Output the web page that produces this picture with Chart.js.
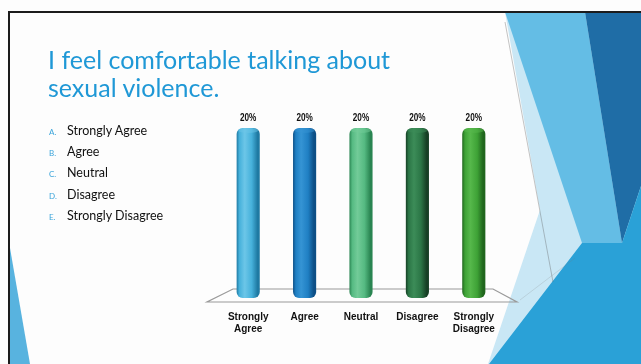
<!DOCTYPE html>
<html><head><meta charset="utf-8">
<script src="https://cdn.jsdelivr.net/npm/chart.js@4.4.1/dist/chart.umd.min.js"></script>
<style>
html,body{margin:0;padding:0;background:#fff;overflow:hidden}
#wrap{position:relative;width:641px;height:364px}
#c{position:absolute;left:0;top:0}
#title{position:absolute;left:48px;top:45px;font-family:Lato,"Open Sans",sans-serif;font-size:25px;line-height:28px;color:#1f98d6;white-space:nowrap}
#list{position:absolute;left:49px;top:120px;font-family:Lato,"Open Sans",sans-serif;color:#111}
.item{height:21.2px;line-height:21.2px;font-size:12.5px;white-space:nowrap}
.item .l{display:inline-block;width:18px;font-size:8px;color:#3aa4da}
</style>
</head><body>
<div id="wrap">
<canvas id="c" width="641" height="364"></canvas>
<div id="title">I feel comfortable talking about<br>sexual violence.</div>
<div id="list"></div>
</div>
<script>
// ---- data ----
const categories = [["Strongly","Agree"],"Agree","Neutral","Disagree",["Strongly","Disagree"]];
const values = [20,20,20,20,20];
const valueSuffix = "%";
const listLetters = ["A.","B.","C.","D.","E."];
const listItems = ["Strongly Agree","Agree","Neutral","Disagree","Strongly Disagree"];
const yMax = 20;

// ---- styles ----
const barStyles = [
  {edge:"#1f7aa3", base:"#46b1db", hi:"#6cc6e8"},
  {edge:"#0d4f86", base:"#1f7fc3", hi:"#3594d4"},
  {edge:"#2a8552", base:"#55ba82", hi:"#72cb98"},
  {edge:"#163f25", base:"#2b7646", hi:"#3c8c58"},
  {edge:"#20661d", base:"#3ea236", hi:"#56b84b"}
];

// build the list text
const listEl = document.getElementById('list');
listItems.forEach((t,i)=>{
  const d = document.createElement('div'); d.className='item';
  const l = document.createElement('span'); l.className='l'; l.textContent = listLetters[i];
  d.appendChild(l); d.appendChild(document.createTextNode(t));
  listEl.appendChild(d);
});

const BAR_FRAC = 0.41;
function cylFill(ctx){
  const chart = ctx.chart, area = chart.chartArea, st = barStyles[ctx.dataIndex];
  if(!area || !chart.scales.x) return st.base;
  const cx = chart.scales.x.getPixelForValue(ctx.dataIndex);
  const w = (area.right-area.left)/categories.length*BAR_FRAC;
  const g = chart.ctx.createLinearGradient(cx-w/2,0,cx+w/2,0);
  g.addColorStop(0, st.edge);
  g.addColorStop(0.12, st.base);
  g.addColorStop(0.35, st.hi);
  g.addColorStop(0.65, st.base);
  g.addColorStop(0.9, st.edge);
  g.addColorStop(1, st.edge);
  return g;
}

const bgPlugin = {
  id:'bg',
  beforeDraw(chart){
    const c = chart.ctx;
    c.save();
    c.fillStyle='#fdfdfd'; c.fillRect(0,0,641,364);
    const poly=(pts,col)=>{c.beginPath();c.moveTo(pts[0][0],pts[0][1]);for(let i=1;i<pts.length;i++)c.lineTo(pts[i][0],pts[i][1]);c.closePath();c.fillStyle=col;c.fill();};
    // right decorative facets
    poly([[505,12],[641,12],[641,364],[488,364],[540,210]],'#c9e7f5');
    poly([[505,12],[585,12],[622,243],[582,243]],'#64bde5');
    poly([[585,12],[641,12],[641,186],[622,243]],'#1f6da6');
    poly([[582,243],[622,243],[641,186],[641,364],[489,364]],'#2aa1d7');
    // left sliver
    poly([[10,248],[30,364],[10,364]],'#58b3df');
    // faint lines
    c.strokeStyle='rgba(90,90,90,0.45)'; c.lineWidth=0.8;
    c.beginPath(); c.moveTo(505,22); c.lineTo(553,282); c.stroke();
    c.strokeStyle='rgba(120,120,120,0.25)';
    c.beginPath(); c.moveTo(520,300); c.lineTo(575,258); c.stroke();
    // slide border
    c.fillStyle='#1c1c1c';
    c.fillRect(8,11,633,2);
    c.fillRect(8,11,2,353);
    c.restore();
  },
  beforeDatasetsDraw(chart){
    const c = chart.ctx, a = chart.chartArea;
    c.save();
    c.strokeStyle='#9a9a9a'; c.lineWidth=1.2;
    c.beginPath();
    c.moveTo(a.left+13, a.bottom-9);
    c.lineTo(a.right-9, a.bottom-9);
    c.lineTo(a.right+15, a.bottom+4);
    c.lineTo(a.left-13, a.bottom+4);
    c.closePath();
    c.stroke();
    c.restore();
  },
  afterDatasetsDraw(chart){
    const c = chart.ctx, meta = chart.getDatasetMeta(0);
    c.save();
    meta.data.forEach((el,i)=>{
      const st = barStyles[i];
      const w = el.width;
      c.beginPath();
      c.ellipse(el.x, el.y+2.5, w/2-1.5, 2.5, 0, 0, Math.PI*2);
      c.fillStyle = st.hi; c.globalAlpha=0.5; c.fill(); c.globalAlpha=1;
      c.save();
      c.translate(el.x, el.y-10);
      c.scale(0.78,1);
      c.fillStyle='#111';
      c.font='bold 10.5px "Liberation Sans", sans-serif';
      c.textAlign='center'; c.textBaseline='middle';
      c.fillText(values[i]+valueSuffix, 0, 0);
      c.restore();
    });
    c.restore();
  }
};

new Chart(document.getElementById('c'), {
  type:'bar',
  data:{
    labels: categories,
    datasets:[{
      data: values,
      backgroundColor: cylFill,
      borderWidth:0,
      borderRadius:6,
      borderSkipped:false,
      categoryPercentage:1,
      barPercentage:BAR_FRAC
    }]
  },
  options:{
    responsive:false,
    animation:false,
    layout:{padding:{left:220,right:139,top:128,bottom:0}},
    plugins:{legend:{display:false},tooltip:{enabled:false}},
    scales:{
      x:{
        grid:{display:false,drawTicks:false},
        border:{display:false},
        ticks:{padding:13,color:'#111',font:{family:'"Liberation Sans", sans-serif',weight:'bold',size:10,lineHeight:1.2},maxRotation:0,autoSkip:false},
        afterFit(s){ s.height = 66; }
      },
      y:{display:false,min:0,max:yMax}
    }
  },
  plugins:[bgPlugin]
});
</script>
</body></html>
